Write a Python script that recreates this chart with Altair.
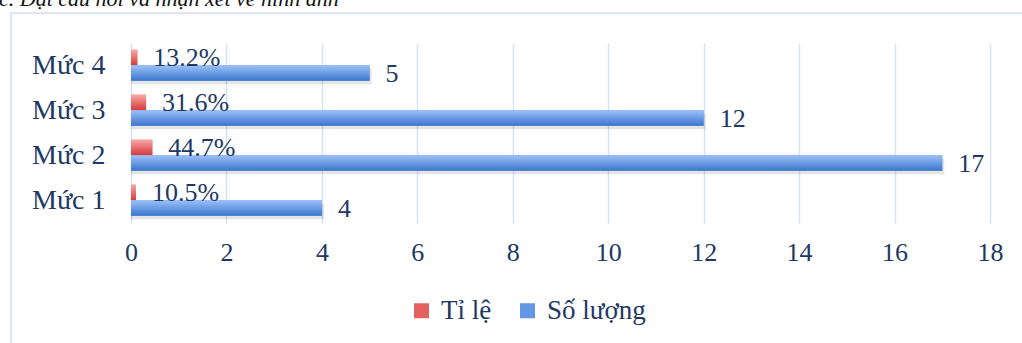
import altair as alt
import pandas as pd

categories = ["Mức 1", "Mức 2", "Mức 3", "Mức 4"]
counts = [4, 17, 12, 5]
ratios = [10.5, 44.7, 31.6, 13.2]
series_names = ["Tỉ lệ", "Số lượng"]
x_ticks = [0, 2, 4, 6, 8, 10, 12, 14, 16, 18]
heading = "c. Đặt câu hỏi và nhận xét về hình ảnh"

rows = []
for c, n, r in zip(categories, counts, ratios):
    rows.append({"cat": c, "series": "Tỉ lệ", "value": r / 100, "label": f"{r:.1f}%"})
    rows.append({"cat": c, "series": "Số lượng", "value": n, "label": str(n)})
df = pd.DataFrame(rows)

FONT = "Liberation Serif"
TXT = "#203864"
cat_order = list(reversed(categories))

yenc = alt.Y("cat:N", sort=cat_order, title=None,
             scale=alt.Scale(paddingInner=0, paddingOuter=0),
             axis=alt.Axis(domain=False, ticks=False, labelPadding=26,
                           labelFont=FONT, labelFontSize=28, labelColor=TXT))
xenc = alt.X("value:Q", title=None, stack=None,
             scale=alt.Scale(domain=[0, 18], nice=False),
             axis=alt.Axis(values=x_ticks, domain=False, ticks=False,
                           grid=True, gridColor="#D6E1F1", gridWidth=1.5,
                           labelFlush=False,
                           labelPadding=16, labelFont=FONT, labelFontSize=26,
                           labelColor=TXT))

base = alt.Chart(df)
red_data = base.transform_filter(alt.datum.series == "Tỉ lệ")
blue_data = base.transform_filter(alt.datum.series == "Số lượng")

red_grad = alt.Gradient(gradient="linear", x1=0, y1=0, x2=0, y2=1,
                        stops=[alt.GradientStop(color="#F8A8A4", offset=0),
                               alt.GradientStop(color="#D43A3A", offset=1)])
blue_grad = alt.Gradient(gradient="linear", x1=0, y1=0, x2=0, y2=1,
                         stops=[alt.GradientStop(color="#9DC1FA", offset=0),
                                alt.GradientStop(color="#3A76CC", offset=1)])

color_enc = alt.Color(
    "series:N",
    scale=alt.Scale(domain=series_names, range=["#E4615F", "#6396E3"]),
    legend=alt.Legend(title=None, orient="none", direction="horizontal",
                      legendX=277, legendY=254, padding=0,
                      symbolType="square", symbolSize=225,
                      symbolStrokeWidth=0, labelFont=FONT,
                      labelFontSize=27, labelColor=TXT,
                      labelOffset=6, columnPadding=22),
)

frame = alt.Chart(alt.Data(values=[{}])).mark_rect(
    fillOpacity=0, stroke="#D3DDEB", strokeWidth=1.5
).encode(x=alt.value(-120), x2=alt.value(900), y=alt.value(-30), y2=alt.value(330))

head = alt.Chart(alt.Data(values=[{"t": heading}])).mark_text(
    align="left", baseline="alphabetic", font=FONT, fontSize=22,
    fontStyle="italic", color="#111111"
).encode(x=alt.value(-132), y=alt.value(-37), text="t:N")

shadow = blue_data.mark_bar(
    height=15.5, yOffset=11, xOffset=2, color="#000000", opacity=0.1
).encode(x=xenc, y=yenc)

red_solid = red_data.mark_bar(height=15.5, yOffset=-8).encode(x=xenc, y=yenc, color=color_enc)
blue_solid = blue_data.mark_bar(height=15.5, yOffset=7.5).encode(x=xenc, y=yenc, color=color_enc)

red_bars = red_data.mark_bar(height=15.5, yOffset=-8, color=red_grad).encode(x=xenc, y=yenc)
blue_bars = blue_data.mark_bar(height=15.5, yOffset=7.5, color=blue_grad).encode(x=xenc, y=yenc)

red_text = red_data.mark_text(
    align="left", baseline="middle", dx=16, yOffset=-8,
    font=FONT, fontSize=26, color=TXT
).encode(x=xenc, y=yenc, text="label:N")
blue_text = blue_data.mark_text(
    align="left", baseline="middle", dx=16, yOffset=8,
    font=FONT, fontSize=26, color=TXT
).encode(x=xenc, y=yenc, text="label:N")

chart = alt.layer(
    frame, head, shadow, red_solid, blue_solid, red_bars, blue_bars, red_text, blue_text
).properties(
    width=859, height=180,
    autosize=alt.AutoSizeParams(type="none"),
    padding={"left": 131, "top": 43, "right": 32, "bottom": 120},
    background="white",
).configure_view(strokeWidth=0)

chart.save("out.html", embed_options={"renderer": "svg", "actions": False})
